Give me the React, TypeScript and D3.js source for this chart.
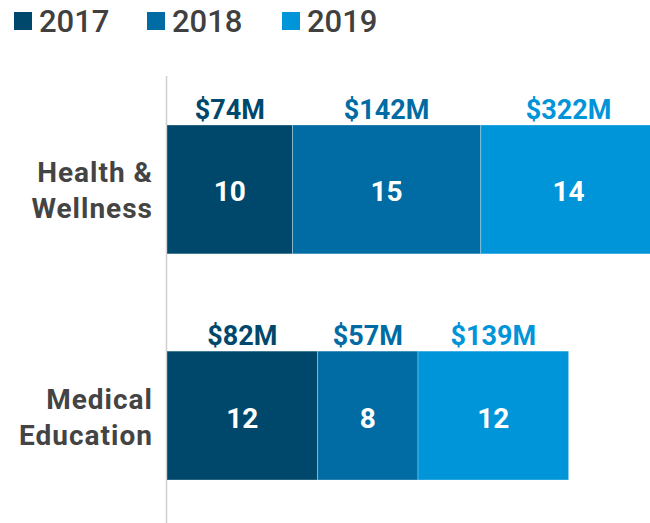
import React from "react";
import * as d3 from "d3";

const categories = ["Health & Wellness", "Medical Education"];
const categoryLines = [["Health &", "Wellness"], ["Medical", "Education"]];
const years = ["2017", "2018", "2019"];
const counts2017 = [10, 12];
const counts2018 = [15, 8];
const counts2019 = [14, 12];
const funding2017 = ["$74M", "$82M"];
const funding2018 = ["$142M", "$57M"];
const funding2019 = ["$322M", "$139M"];

const colors = ["#00486b", "#006ca3", "#0094d9"];
const FONT = "Roboto, 'Noto Sans', sans-serif";

export default function App() {
  const width = 650;
  const height = 523;
  const x = d3.scaleLinear().domain([0, 40]).range([167, 669]);
  const y = d3.scaleBand<string>().domain(categories).range([125, 480]).paddingInner(0.43).paddingOuter(0);
  const series = [counts2017, counts2018, counts2019];
  const funding = [funding2017, funding2018, funding2019];
  const data = categories.map((c, i) => {
    const row: any = { cat: c };
    years.forEach((yr, j) => (row[yr] = series[j][i]));
    return row;
  });
  const stacked = d3.stack<any>().keys(years)(data);
  const bw = y.bandwidth();

  return (
    <div style={{ position: "absolute", left: 0, top: 0 }}>
      <svg width={width} height={height} style={{ display: "block" }} fontFamily={FONT}>
        <rect width={width} height={height} fill="#fff" />
        {/* legend */}
        {years.map((yr, j) => {
          const lx = [14, 147, 282][j];
          return (
            <g key={yr}>
              <rect x={lx} y={12} width={18} height={18} fill={colors[j]} />
              <text x={lx + 25} y={32} fontSize={31} fontWeight={500} fill="#404040">
                {yr}
              </text>
            </g>
          );
        })}
        {/* axis line */}
        <line x1={166.5} x2={166.5} y1={76} y2={523} stroke="#cfcfcf" strokeWidth={1.5} />
        {/* bars */}
        {stacked.map((s, j) => (
          <g key={s.key}>
            {s.map((d, i) => {
              const x0 = x(d[0]);
              const x1 = x(d[1]);
              const yy = y(categories[i])!;
              return (
                <g key={i}>
                  <rect x={x0} y={yy} width={x1 - x0} height={bw} fill={colors[j]} stroke="rgba(255,255,255,0.3)" strokeWidth={1} />
                  <text x={(x0 + x1) / 2} y={yy + bw / 2 + 12} textAnchor="middle" fontSize={28} fontWeight={700} fill="#fff">
                    {series[j][i]}
                  </text>
                  <text x={(x0 + x1) / 2} y={yy - 6} textAnchor="middle" fontSize={27} fontWeight={700} fill={colors[j]}>
                    {funding[j][i]}
                  </text>
                </g>
              );
            })}
          </g>
        ))}
        {/* category labels */}
        {categories.map((c, i) => {
          const yy = y(c)! + bw / 2;
          return (
            <text key={c} x={153} textAnchor="end" fontSize={28} fontWeight={700} fill="#444" letterSpacing={1}>
              {categoryLines[i].map((ln, k) => (
                <tspan key={k} x={153} y={yy - 7 + k * 36}>
                  {ln}
                </tspan>
              ))}
            </text>
          );
        })}
      </svg>
    </div>
  );
}
